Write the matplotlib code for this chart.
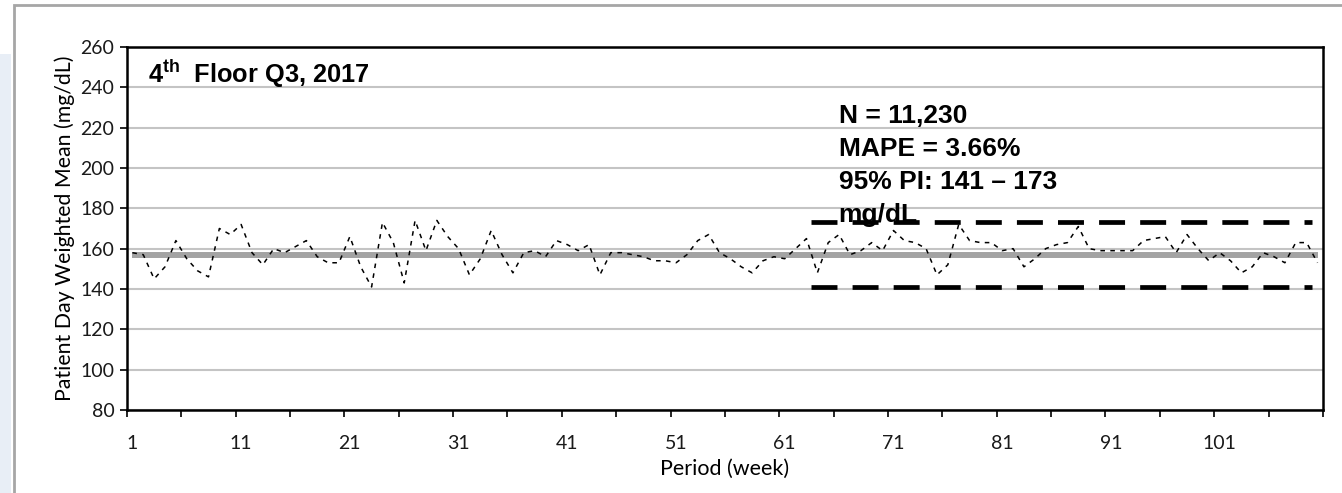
import numpy as np
import matplotlib.pyplot as plt
from matplotlib.patches import Rectangle

# weekly patient-day weighted mean glucose (mg/dL)
weeks = np.arange(1, 111)
weekly_mean = [158, 157, 145, 151, 164, 155, 149, 146, 170, 167,
               172, 158, 152, 160, 158, 161, 164, 156, 153, 153,
               166, 151, 141, 173, 163, 143, 174, 159, 174, 166,
               160, 147, 155, 169, 157, 148, 158, 159, 156, 164,
               162, 159, 162, 147, 158, 158, 157, 156, 154, 154,
               153, 157, 164, 167, 158, 155, 151, 148, 154, 156,
               155, 160, 165, 148, 163, 167, 157, 159, 163, 159,
               169, 164, 163, 160, 147, 152, 172, 164, 163, 163,
               159, 160, 151, 155, 160, 162, 163, 171, 160, 159,
               159, 159, 159, 164, 165, 166, 158, 167, 160, 154,
               158, 154, 148, 151, 158, 156, 153, 163, 163, 153]
overall_mean = 157
pi_low, pi_high = 141, 173
pi_weeks = [63.4, 109.5]

xtick_pos = list(range(1, 111, 10))
yticks = list(range(80, 261, 20))

fig = plt.figure(figsize=(13.42, 4.93), dpi=100)
# screenshot frame
fig.patches.append(Rectangle((0, 0), 0.008, 0.89, transform=fig.transFigure,
                             facecolor='#e8eef6', edgecolor='none'))
fig.patches.append(Rectangle((0.0105, -0.05), 1.0, 1.04, transform=fig.transFigure,
                             facecolor='none', edgecolor='#a6a6a6', lw=2))

ax = fig.add_axes([0.0946, 0.1684, 0.8912, 0.7363])
ax.set_xlim(0.5, 110.5)
ax.set_ylim(80, 260)

ax.set_yticks(yticks)
ax.yaxis.grid(True, color='#c4c4c4', lw=1.5)
ax.set_axisbelow(True)

ax.plot(weeks, [overall_mean] * len(weeks), color='#a3a3a3', lw=4.3, solid_capstyle='butt')
ax.plot(weeks, weekly_mean, color='black', lw=1.1, linestyle=(0, (3, 3.5)))
for v in (pi_low, pi_high):
    ax.plot(pi_weeks, [v, v], color='black', lw=3.4, linestyle=(0, (5.5, 3.2)))

ax.set_xticks(xtick_pos)
ax.set_xticklabels([str(t) for t in xtick_pos])
ax.set_xticks(np.arange(0.5, 111, 5), minor=True)
ax.tick_params(axis='x', which='major', length=0, pad=18)
ax.tick_params(axis='x', which='minor', length=5, width=1.2, direction='out')
ax.tick_params(axis='y', length=5, width=1.2, direction='out', pad=4)

tick_font = 'Lato'
for lab in ax.get_xticklabels() + ax.get_yticklabels():
    lab.set_fontfamily(tick_font)
    lab.set_fontsize(14)
    lab.set_color('#1a1a1a')

for s in ax.spines.values():
    s.set_color('black')
    s.set_linewidth(1.8)

ax.set_xlabel('Period (week)', fontsize=15.5, family=tick_font, labelpad=5)
ax.set_ylabel('Patient Day Weighted Mean (mg/dL)', fontsize=15.3, family=tick_font, labelpad=4)

ax.text(0.018, 0.925, r'4$^{\mathregular{th}}$  Floor Q3, 2017', transform=ax.transAxes,
        fontsize=18.3, fontweight='bold', family='Liberation Sans', va='center')

stats = ['N = 11,230', 'MAPE = 3.66%', '95% PI: 141 \u2013 173', 'mg/dL']
for i, s in enumerate(stats):
    ax.text(0.595, 0.81 - i * 0.091, s, transform=ax.transAxes, fontsize=19,
            fontweight='bold', family='Liberation Sans', va='center')

fig.savefig('out.png', dpi=100)
